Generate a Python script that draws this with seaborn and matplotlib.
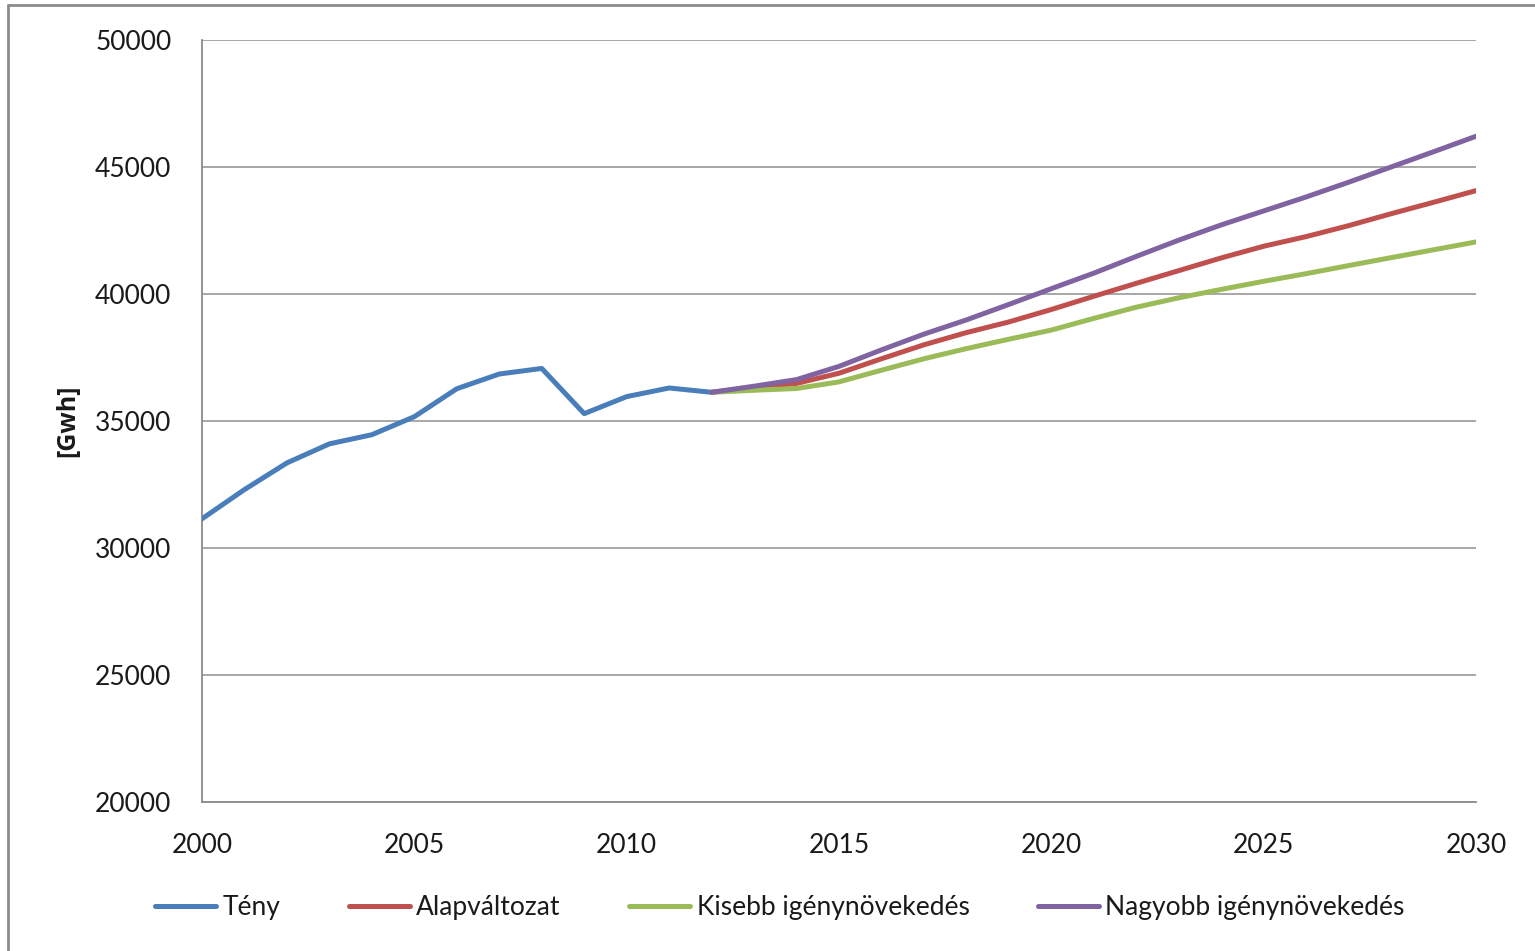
import numpy as np
import pandas as pd
import matplotlib
matplotlib.use("Agg")
import matplotlib.pyplot as plt
from matplotlib.lines import Line2D
import seaborn as sns

# Annual electricity demand [GWh]: actuals and three forecast scenarios
years_hist = list(range(2000, 2013))
teny = [31150, 32300, 33350, 34100, 34460, 35170, 36270, 36850, 37070,
        35290, 35960, 36300, 36130]

years_proj = list(range(2012, 2031))
alapvaltozat = [36130, 36320, 36480, 36880, 37450, 38000, 38480, 38900, 39390,
                39910, 40420, 40920, 41420, 41880, 42260, 42690, 43160, 43610, 44070]
kisebb = [36130, 36210, 36280, 36540, 37000, 37450, 37850, 38220, 38580,
          39040, 39480, 39850, 40180, 40500, 40800, 41120, 41430, 41740, 42050]
nagyobb = [36130, 36370, 36630, 37150, 37800, 38420, 38980, 39590, 40210,
           40820, 41480, 42120, 42720, 43270, 43820, 44400, 45000, 45600, 46210]

series_names = ["Tény", "Alapváltozat", "Kisebb igénynövekedés", "Nagyobb igénynövekedés"]
series_colors = ["#4a7ebb", "#c0504d", "#9bbb59", "#8064a2"]

x_ticks = list(range(2000, 2031, 5))
y_ticks = list(range(20000, 50001, 5000))

frames = [pd.DataFrame({"Év": years_hist, "GWh": teny, "Sorozat": series_names[0]})]
for name, vals in zip(series_names[1:], [alapvaltozat, kisebb, nagyobb]):
    frames.append(pd.DataFrame({"Év": years_proj, "GWh": vals, "Sorozat": name}))
df = pd.concat(frames, ignore_index=True)

sns.set_theme(style="white")
plt.rcParams["font.family"] = ["Lato", "DejaVu Sans"]

W, H = 1535, 951
fig = plt.figure(figsize=(W / 100, H / 100), dpi=100)
ax = fig.add_axes([202 / W, 1 - 802 / H, 1274 / W, 762 / H])

sns.lineplot(data=df, x="Év", y="GWh", hue="Sorozat", hue_order=series_names,
             palette=dict(zip(series_names, series_colors)), linewidth=3.6,
             ax=ax, legend=True, zorder=3)

ax.set_xlim(2000, 2030)
ax.set_ylim(20000, 50000)
ax.set_xticks(x_ticks)
ax.set_yticks(y_ticks)
ax.set_xticklabels([str(v) for v in x_ticks])
ax.set_yticklabels([str(v) for v in y_ticks])
ax.set_xlabel("")
ax.set_ylabel("")

grid_c = "#a0a0a0"
ax.yaxis.grid(True, color=grid_c, linewidth=1.3)
ax.xaxis.grid(False)
for side in ["top", "right"]:
    ax.spines[side].set_visible(False)
for side in ["left", "bottom"]:
    ax.spines[side].set_color("#8c8c8c")
    ax.spines[side].set_linewidth(1.3)
ax.tick_params(axis="both", which="both", direction="out", length=7, width=1.3,
               color="#8c8c8c", labelsize=19, labelcolor="#1a1a1a")
ax.tick_params(axis="y", pad=15)
ax.tick_params(axis="x", pad=15)
ax.set_axisbelow(True)

fig.text(68 / W, 1 - 421 / H, "[Gwh]", rotation=90, ha="center", va="center",
         fontsize=18, fontweight="bold", family=["Open Sans", "DejaVu Sans"],
         color="#1a1a1a")

sns.move_legend(ax, "center", bbox_to_anchor=(780 / W, 1 - 908 / H),
                bbox_transform=fig.transFigure, ncol=4, frameon=False, title=None,
                handlelength=2.3, handletextpad=0.25, columnspacing=2.6, fontsize=19)
for txt in ax.get_legend().get_texts():
    txt.set_color("#1a1a1a")

# Outer chart-area border (left and top edges)
border_c = "#8c8c8c"
fig.add_artist(Line2D([8 / W, 8 / W], [0, 1 - 5 / H], transform=fig.transFigure,
                      color=border_c, linewidth=2))
fig.add_artist(Line2D([8 / W, 1], [1 - 5 / H, 1 - 5 / H], transform=fig.transFigure,
                      color=border_c, linewidth=2))

fig.savefig("out.png", dpi=100, facecolor="white")
